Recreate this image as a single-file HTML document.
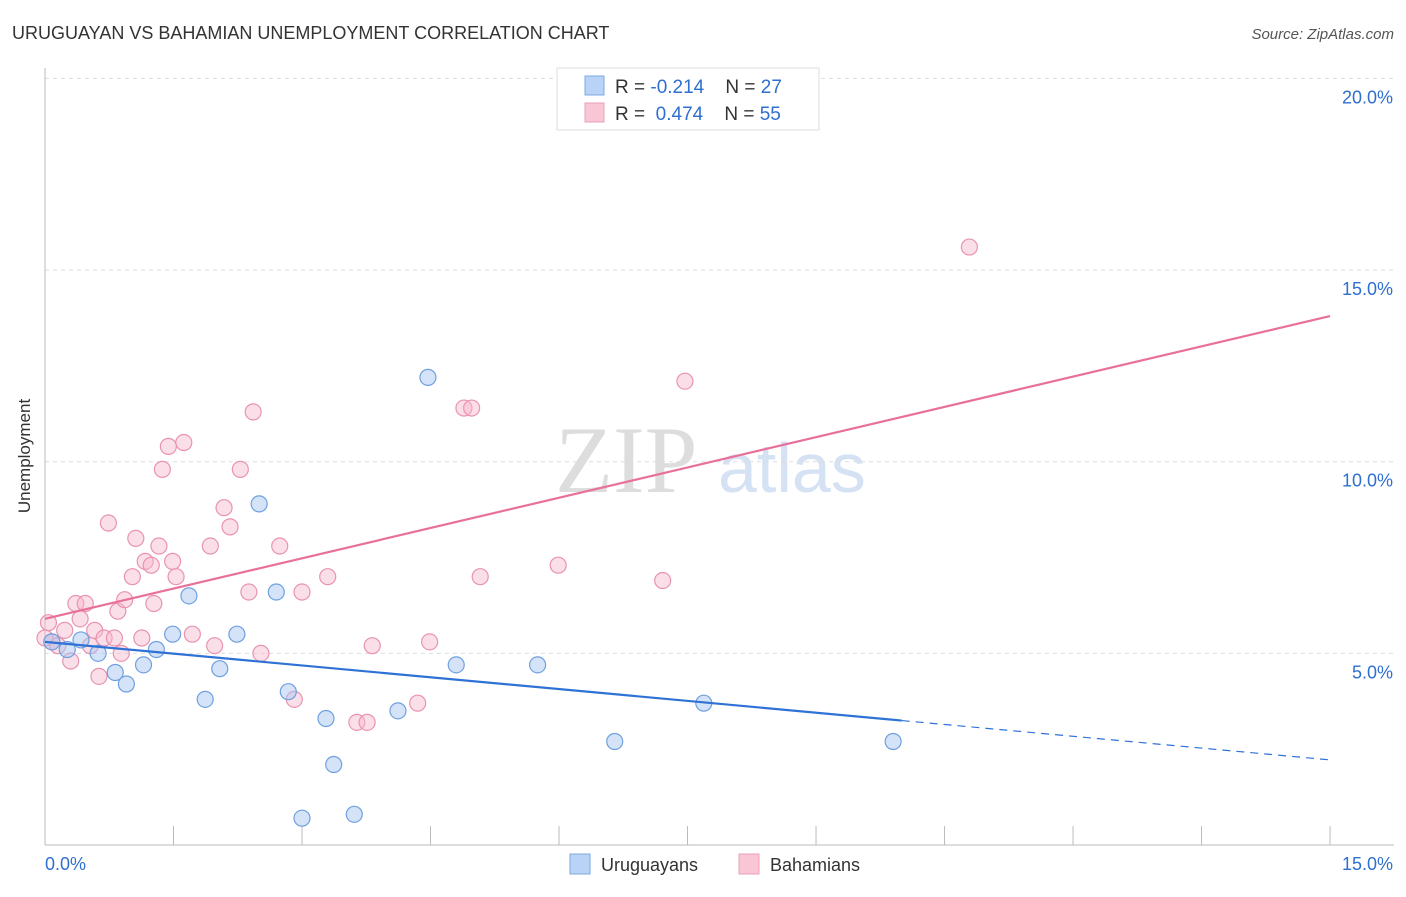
<!DOCTYPE html>
<html><head><meta charset="utf-8"><style>
body{margin:0;background:#fff;font-family:"Liberation Sans",sans-serif;}
</style></head><body>
<svg id="chart" width="1406" height="892" xmlns="http://www.w3.org/2000/svg" font-family="Liberation Sans, sans-serif">
<text x="12" y="39" font-size="18" fill="#333">URUGUAYAN VS BAHAMIAN UNEMPLOYMENT CORRELATION CHART</text>
<text x="1394" y="39" font-size="15" fill="#555" text-anchor="end" font-style="italic">Source: ZipAtlas.com</text>
<text x="30" y="456" font-size="17" fill="#333" text-anchor="middle" transform="rotate(-90 30 456)">Unemployment</text>
<text x="555" y="492" font-size="95" fill="#ddd" font-family="Liberation Serif, serif">ZIP</text>
<text x="718" y="492" font-size="70" fill="#d4e2f4">atlas</text>
<g id="grid"></g><g id="axes"></g><g id="marks"></g>
<g>
<rect x="557" y="68" width="262" height="62" fill="#fff" stroke="#ddd"/>
<rect x="585" y="76" width="19" height="19" fill="#b8d3f5" stroke="#7ea8e0"/>
<rect x="585" y="103" width="19" height="19" fill="#f9c6d6" stroke="#eaa0b8"/>
<text x="615" y="93" font-size="19" fill="#333" xml:space="preserve">R = <tspan fill="#2f6fd0">-0.214</tspan>    N = <tspan fill="#2f6fd0">27</tspan></text>
<text x="615" y="120" font-size="19" fill="#333" xml:space="preserve">R =  <tspan fill="#2f6fd0">0.474</tspan>    N = <tspan fill="#2f6fd0">55</tspan></text>
</g>
<g>
<rect x="570" y="854" width="20" height="20" fill="#b8d3f5" stroke="#7ea8e0"/>
<text x="601" y="871" font-size="18" fill="#333">Uruguayans</text>
<rect x="739" y="854" width="20" height="20" fill="#f9c6d6" stroke="#eaa0b8"/>
<text x="770" y="871" font-size="18" fill="#333">Bahamians</text>
</g>
</svg>
<script>
const uruX=[0.08,0.26,0.42,0.62,0.82,0.95,1.15,1.30,1.49,1.68,1.87,2.04,2.24,2.50,2.70,2.84,3.28,3.37,3.00,3.61,4.12,4.47,4.80,5.75,6.65,7.69,9.90];
const uruY=[5.3,5.1,5.35,5.0,4.5,4.2,4.7,5.1,5.5,6.5,3.8,4.6,5.5,8.9,6.6,4.0,3.3,2.1,0.7,0.8,3.5,12.2,4.7,4.7,2.7,3.7,2.7];
const bahX=[0.04,0.08,0.15,0.23,0.30,0.36,0.41,0.47,0.53,0.58,0.63,0.69,0.74,0.81,0.85,0.89,0.93,1.02,1.06,1.13,1.17,1.24,1.27,1.33,1.37,1.44,1.49,1.53,1.62,1.72,1.93,1.98,2.09,2.16,2.28,2.38,2.43,2.52,2.74,2.91,3.00,3.30,3.64,3.76,3.82,4.35,4.49,4.89,4.98,5.08,5.99,7.21,7.47,10.79,0.0];
const bahY=[5.8,5.3,5.2,5.6,4.8,6.3,5.9,6.3,5.2,5.6,4.4,5.4,8.4,5.4,6.1,5.0,6.4,7.0,8.0,5.4,7.4,7.3,6.3,7.8,9.8,10.4,7.4,7.0,10.5,5.5,7.8,5.2,8.8,8.3,9.8,6.6,11.3,5.0,7.8,3.8,6.6,7.0,3.2,3.2,5.2,3.7,5.3,11.4,11.4,7.0,7.3,6.9,12.1,15.6,5.4];
const uruLine=[5.3,2.22], uruSolidEnd=10.0, bahLine=[5.9,13.8];
const yTicks=[5,10,15,20];
const X=v=>45+v*85.67, Y=v=>845-v*38.33;
const NS="http://www.w3.org/2000/svg";
function mk(p,t,a){const e=document.createElementNS(NS,t);for(const k in a)e.setAttribute(k,a[k]);p.appendChild(e);return e;}
const grid=document.getElementById('grid'),axes=document.getElementById('axes'),marks=document.getElementById('marks');
yTicks.forEach(t=>{const l=mk(grid,'line',{x1:45,x2:1394,y1:Y(t),y2:Y(t),stroke:'#ddd','stroke-dasharray':'4,4'});


const tx=mk(axes,'text',{x:1393,y:Y(t)+25,'font-size':18,fill:'#2f6fd0','text-anchor':'end'});tx.textContent=t.toFixed(1)+'%';

});
const ax=mk(axes,'line',{x1:45,x2:1394,y1:845,y2:845,stroke:'#bbb'});


const ay=mk(axes,'line',{x1:45,x2:45,y1:68,y2:845,stroke:'#bbb'});


for(let i=0;i<=10;i++){const t=mk(axes,'line',{x1:X(i*1.5),x2:X(i*1.5),y1:826,y2:845,stroke:'#bbb'});

}
[['0.0%',45,'start'],['15.0%',1393,'end']].forEach(([s,x,a])=>{const t=mk(axes,'text',{x:x,y:870,'font-size':18,fill:'#2f6fd0','text-anchor':a});t.textContent=s;

});
bahX.forEach((x,i)=>{const c=mk(marks,'circle',{cx:X(x),cy:Y(bahY[i]),r:8,fill:'#f7b9cd','fill-opacity':0.45,stroke:'#e993b0','stroke-width':1.2});

});
uruX.forEach((x,i)=>{const c=mk(marks,'circle',{cx:X(x),cy:Y(uruY[i]),r:8,fill:'#a9c8f0','fill-opacity':0.5,stroke:'#6fa0e0','stroke-width':1.2});

});
const uy=x=>uruLine[0]+(uruLine[1]-uruLine[0])*x/15;
const l1=mk(marks,'line',{x1:X(0),y1:Y(uy(0)),x2:X(uruSolidEnd),y2:Y(uy(uruSolidEnd)),stroke:'#2f72d6','stroke-width':2.2});


const l2=mk(marks,'line',{x1:X(uruSolidEnd),y1:Y(uy(uruSolidEnd)),x2:X(15),y2:Y(uy(15)),stroke:'#2f72d6','stroke-width':1.2,'stroke-dasharray':'8,6'});


const l3=mk(marks,'line',{x1:X(0),y1:Y(bahLine[0]),x2:X(15),y2:Y(bahLine[1]),stroke:'#e8709a','stroke-width':2.2});


</script>
</body></html>
